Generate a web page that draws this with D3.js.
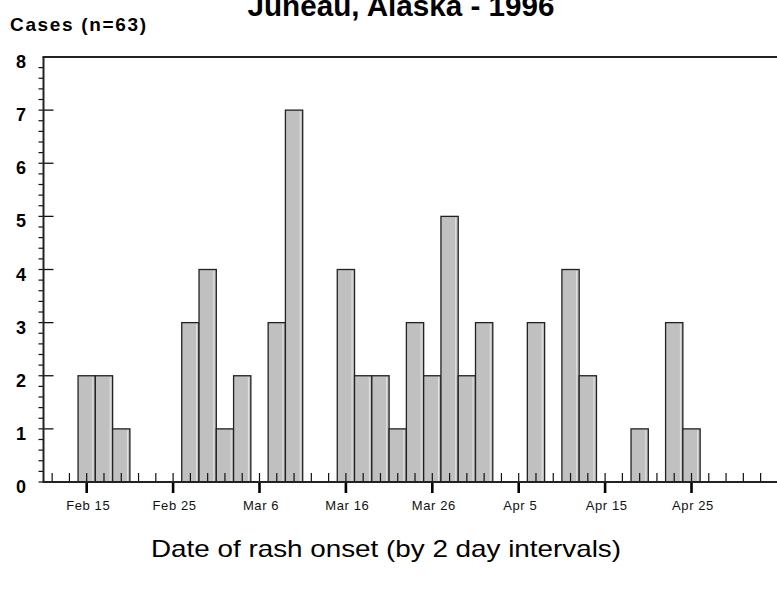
<!DOCTYPE html>
<html>
<head>
<meta charset="utf-8">
<script src="https://cdn.jsdelivr.net/npm/d3@7"></script>
<style>
  body { margin: 0; background: #fff; }
  svg { display: block; font-family: "Liberation Sans", Arial, sans-serif; }
</style>
</head>
<body>
<div id="chart"></div>
<script>
// cases by 2 day interval (bin centre date)
const binDates = ["1996-02-15", "1996-02-17", "1996-02-19", "1996-02-27", "1996-02-29",
  "1996-03-02", "1996-03-04", "1996-03-08", "1996-03-10", "1996-03-16", "1996-03-18",
  "1996-03-20", "1996-03-22", "1996-03-24", "1996-03-26", "1996-03-28", "1996-03-30",
  "1996-04-01", "1996-04-07", "1996-04-11", "1996-04-13", "1996-04-19", "1996-04-23",
  "1996-04-25"];
const cases = [2, 2, 1, 3, 4, 1, 2, 3, 7, 4, 2, 2, 1, 3, 2, 5, 2, 3, 3, 4, 2, 1, 3, 1];

const tickDates = ["1996-02-15", "1996-02-25", "1996-03-06", "1996-03-16",
  "1996-03-26", "1996-04-05", "1996-04-15", "1996-04-25"];
const tickLabels = ["Feb 15", "Feb 25", "Mar 6", "Mar 16", "Mar 26", "Apr 5", "Apr 15", "Apr 25"];
const yTicks = [0, 1, 2, 3, 4, 5, 6, 7, 8];

const width = 777, height = 589;
const parse = d3.utcParse("%Y-%m-%d");
const bins = binDates.map((d, i) => ({ date: parse(d), value: cases[i] }));

const svg = d3.select("#chart").append("svg")
  .attr("width", width)
  .attr("height", height);

// scales
const x = d3.scaleUtc()
  .domain([parse("1996-02-10"), parse("1996-05-05")])
  .range([43.5, 43.5 + 85 * 8.64]);
const y = d3.scaleLinear().domain([0, 8]).range([482, 57]);
const x0 = x.range()[0];

// bars
const bar = svg.append("g").selectAll("g")
  .data(bins)
  .join("g");
bar.append("rect")
  .attr("x", d => x(d3.utcDay.offset(d.date, -1)))
  .attr("y", d => y(d.value))
  .attr("width", d => x(d3.utcDay.offset(d.date, 1)) - x(d3.utcDay.offset(d.date, -1)))
  .attr("height", d => y(0) - y(d.value))
  .attr("fill", "#c0c0c0")
  .attr("stroke", "#222")
  .attr("stroke-width", 1.3);
// little light edge on the right side of each bar
bar.append("line")
  .attr("x1", d => x(d3.utcDay.offset(d.date, 1)) - 2.5)
  .attr("x2", d => x(d3.utcDay.offset(d.date, 1)) - 2.5)
  .attr("y1", d => y(d.value) + 1.5)
  .attr("y2", y(0))
  .attr("stroke", "#e4e4e4")
  .attr("stroke-width", 1);

// x minor ticks (every 2 days, pointing up)
const minor = d3.utcDay.range(parse("1996-02-11"), parse("1996-05-06"), 2);
svg.append("g").selectAll("line")
  .data(minor)
  .join("line")
  .attr("x1", d => x(d)).attr("x2", d => x(d))
  .attr("y1", y(0)).attr("y2", y(0) - 9)
  .attr("stroke", "#111").attr("stroke-width", 1.2);

// x major ticks (pointing down) and labels
const major = tickDates.map(parse);
svg.append("g").selectAll("line")
  .data(major)
  .join("line")
  .attr("x1", d => x(d)).attr("x2", d => x(d))
  .attr("y1", y(0)).attr("y2", y(0) + 11)
  .attr("stroke", "#000").attr("stroke-width", 2.6);
svg.append("g").selectAll("text")
  .data(major)
  .join("text")
  .attr("x", d => x(d) + 1.5)
  .attr("y", 510)
  .attr("text-anchor", "middle")
  .attr("font-size", 13)
  .attr("letter-spacing", 0.6)
  .attr("fill", "#111")
  .text((d, i) => tickLabels[i]);

// y minor ticks (every 0.2, pointing out)
svg.append("g").selectAll("line")
  .data(d3.range(0, 40).map(i => i / 5))
  .join("line")
  .attr("x1", x0 - 5).attr("x2", x0)
  .attr("y1", d => y(d)).attr("y2", d => y(d))
  .attr("stroke", "#111").attr("stroke-width", 1.2);

// y major ticks (pointing in) and labels
svg.append("g").selectAll("line")
  .data(yTicks.filter(d => d > 0 && d < 8))
  .join("line")
  .attr("x1", x0).attr("x2", x0 + 10)
  .attr("y1", d => y(d)).attr("y2", d => y(d))
  .attr("stroke", "#111").attr("stroke-width", 1.3);
svg.append("g").selectAll("text")
  .data(yTicks)
  .join("text")
  .attr("x", 21)
  .attr("y", d => y(d) + 11)
  .attr("text-anchor", "middle")
  .attr("font-size", 18)
  .attr("font-weight", "bold")
  .attr("fill", "#000")
  .text(d => d);

// frame: left axis, bottom axis, top line
const frame = svg.append("g")
  .attr("stroke", "#222")
  .attr("stroke-width", 2)
  .attr("fill", "none");
frame.append("line").attr("x1", x0).attr("x2", x0).attr("y1", y(8)).attr("y2", y(0));
frame.append("line").attr("x1", x0 - 1).attr("x2", width).attr("y1", y(0)).attr("y2", y(0));
frame.append("line").attr("x1", x0 - 1).attr("x2", width).attr("y1", y(8)).attr("y2", y(8));

// titles
svg.append("text")
  .attr("x", 401)
  .attr("y", 15.5)
  .attr("text-anchor", "middle")
  .attr("font-size", 29.5)
  .attr("font-weight", "bold")
  .attr("textLength", 307)
  .attr("lengthAdjust", "spacingAndGlyphs")
  .text("Juneau, Alaska - 1996");

svg.append("text")
  .attr("x", 10)
  .attr("y", 30.5)
  .attr("font-size", 19)
  .attr("font-weight", "bold")
  .attr("textLength", 136)
  .attr("lengthAdjust", "spacing")
  .text("Cases (n=63)");

svg.append("text")
  .attr("x", 386)
  .attr("y", 557)
  .attr("text-anchor", "middle")
  .attr("font-size", 24)
  .attr("textLength", 470)
  .attr("lengthAdjust", "spacingAndGlyphs")
  .text("Date of rash onset (by 2 day intervals)");
</script>
</body>
</html>
